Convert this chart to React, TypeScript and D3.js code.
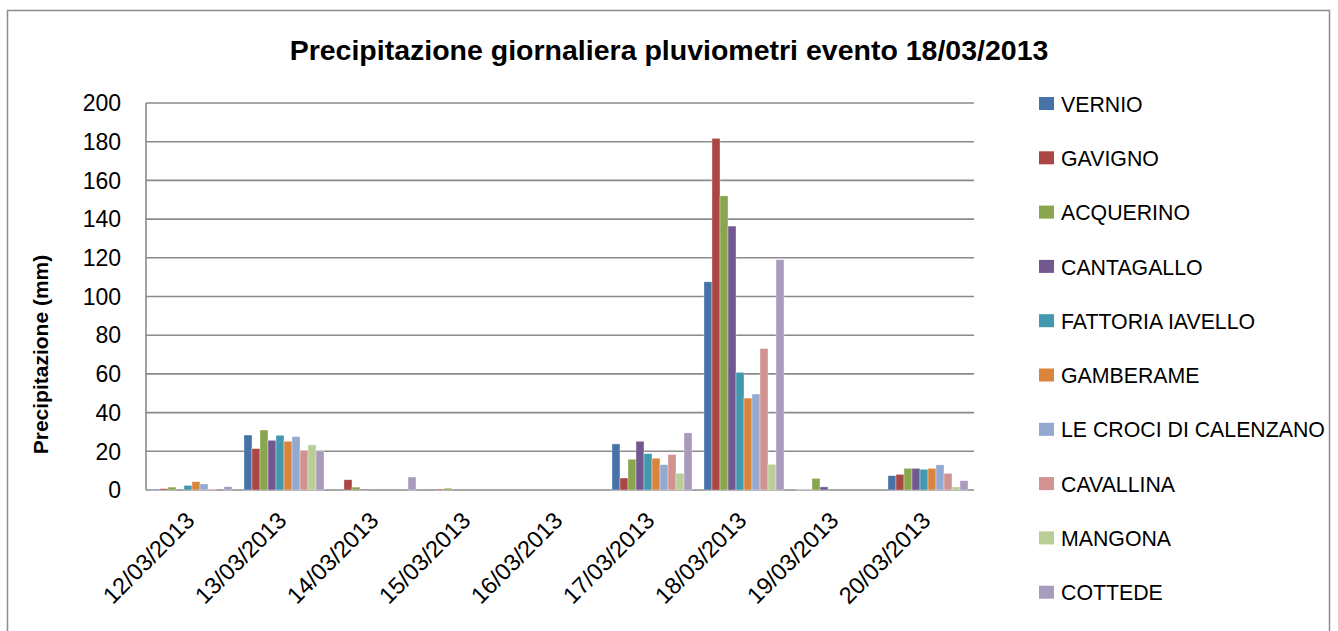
import React, { useRef, useEffect } from 'react';
import * as d3 from 'd3';

const dates = [
  '12/03/2013', '13/03/2013', '14/03/2013', '15/03/2013', '16/03/2013',
  '17/03/2013', '18/03/2013', '19/03/2013', '20/03/2013'
];

const stations = [
  'VERNIO', 'GAVIGNO', 'ACQUERINO', 'CANTAGALLO', 'FATTORIA IAVELLO',
  'GAMBERAME', 'LE CROCI DI CALENZANO', 'CAVALLINA', 'MANGONA', 'COTTEDE'
];

const colors = [
  '#4672a8', '#aa4643', '#89a54e', '#71588f', '#4198af',
  '#db843d', '#93a9cf', '#d19392', '#b9cd96', '#a99bbd'
];

// one array per station, values per date (mm)
const vernio = [0.5, 28.4, 0, 0, 0, 23.8, 107.6, 0.3, 7.4];
const gavigno = [0.7, 21.4, 5.3, 0.5, 0, 6.2, 181.7, 0.2, 8.1];
const acquerino = [1.5, 31.0, 1.5, 0.9, 0, 15.9, 152.0, 6.0, 11.2];
const cantagallo = [0, 25.7, 0.5, 0, 0, 25.2, 136.4, 1.6, 11.2];
const fattoria = [2.4, 28.3, 0, 0, 0, 18.8, 60.8, 0, 10.7];
const gamberame = [4.3, 25.2, 0, 0, 0, 16.4, 47.5, 0, 11.2];
const leCroci = [3.1, 27.6, 0, 0, 0, 13.1, 49.6, 0, 13.0];
const cavallina = [0.5, 20.5, 0, 0, 0, 18.3, 73.1, 0, 8.6];
const mangona = [0, 23.3, 0, 0, 0, 8.6, 13.3, 0, 1.6];
const cottede = [1.7, 20.2, 6.7, 0, 0, 29.5, 119.0, 0, 4.8];

const series = [vernio, gavigno, acquerino, cantagallo, fattoria,
  gamberame, leCroci, cavallina, mangona, cottede];

const yTicks = [0, 20, 40, 60, 80, 100, 120, 140, 160, 180, 200];

const W = 1338;
const H = 631;
const FONT = '"Liberation Sans", Arial, sans-serif';

const App = () => {
  const ref = useRef<SVGSVGElement>(null);

  useEffect(() => {
    const svg = d3.select(ref.current);
    svg.selectAll('*').remove();

    const plot = { left: 146, right: 974, top: 103, bottom: 490 };

    // outer frame
    svg.append('rect')
      .attr('x', 7.5).attr('y', 10.5)
      .attr('width', 1322).attr('height', 640)
      .attr('fill', 'white')
      .attr('stroke', '#8c8c8c')
      .attr('stroke-width', 1.5);

    const x = d3.scaleBand()
      .domain(dates)
      .range([plot.left, plot.right])
      .paddingInner(0.13)
      .paddingOuter(0.065);

    const xs = d3.scaleBand()
      .domain(stations)
      .range([0, x.bandwidth()]);

    const y = d3.scaleLinear()
      .domain([0, 200])
      .range([plot.bottom, plot.top]);

    // gridlines
    svg.append('g')
      .selectAll('line')
      .data(yTicks)
      .join('line')
      .attr('x1', plot.left).attr('x2', plot.right)
      .attr('y1', d => y(d)).attr('y2', d => y(d))
      .attr('stroke', '#8a8a8a')
      .attr('stroke-width', 1.6);

    // y axis line
    svg.append('line')
      .attr('x1', plot.left).attr('x2', plot.left)
      .attr('y1', plot.top).attr('y2', plot.bottom)
      .attr('stroke', '#8a8a8a')
      .attr('stroke-width', 1.6);

    // y tick labels
    svg.append('g')
      .selectAll('text')
      .data(yTicks)
      .join('text')
      .attr('x', 121)
      .attr('y', d => y(d))
      .attr('dy', '0.36em')
      .attr('text-anchor', 'end')
      .style('font-family', FONT)
      .style('font-size', '23px')
      .text(d => d);

    // bars
    const groups = svg.append('g')
      .selectAll('g')
      .data(series)
      .join('g')
      .attr('fill', (_, i) => colors[i]);

    groups.selectAll('rect')
      .data((vals, si) => vals.map((v, di) => ({ v, di, si })))
      .join('rect')
      .filter(d => d.v > 0)
      .attr('x', d => (x(dates[d.di]) as number) + (xs(stations[d.si]) as number))
      .attr('y', d => y(d.v))
      .attr('width', xs.bandwidth())
      .attr('height', d => plot.bottom - y(d.v))
      .attr('stroke', 'rgba(255,255,255,0.6)')
      .attr('stroke-width', 0.6);

    // x labels
    svg.append('g')
      .selectAll('text')
      .data(dates)
      .join('text')
      .attr('transform', d => {
        const cx = (x(d) as number) + x.bandwidth() / 2 + 4;
        return `translate(${cx}, 522) rotate(-45)`;
      })
      .attr('text-anchor', 'end')
      .style('font-family', FONT)
      .style('font-size', '23.5px')
      .text(d => d);

    // title
    svg.append('text')
      .attr('x', 669)
      .attr('y', 60)
      .attr('text-anchor', 'middle')
      .style('font-family', FONT)
      .style('font-size', '28.5px')
      .style('font-weight', 'bold')
      .text('Precipitazione giornaliera pluviometri evento 18/03/2013');

    // y axis title
    svg.append('text')
      .attr('transform', `translate(48, ${(plot.top + plot.bottom) / 2 + 58}) rotate(-90)`)
      .attr('text-anchor', 'middle')
      .style('font-family', FONT)
      .style('font-size', '21px')
      .style('font-weight', 'bold')
      .text('Precipitazione (mm)');

    // legend
    const legend = svg.append('g')
      .selectAll('g')
      .data(stations)
      .join('g')
      .attr('transform', (_, i) => `translate(1039, ${104 + i * 54.3})`);

    legend.append('rect')
      .attr('x', 0).attr('y', -7)
      .attr('width', 15).attr('height', 13)
      .attr('fill', (_, i) => colors[i]);

    legend.append('text')
      .attr('x', 22)
      .attr('dy', '0.36em')
      .style('font-family', FONT)
      .style('font-size', '21.3px')
      .text(d => d);
  }, []);

  return (
    <svg
      ref={ref}
      width={W}
      height={H}
      style={{ position: 'absolute', left: 0, top: 0, background: 'white' }}
    />
  );
};

export default App;
